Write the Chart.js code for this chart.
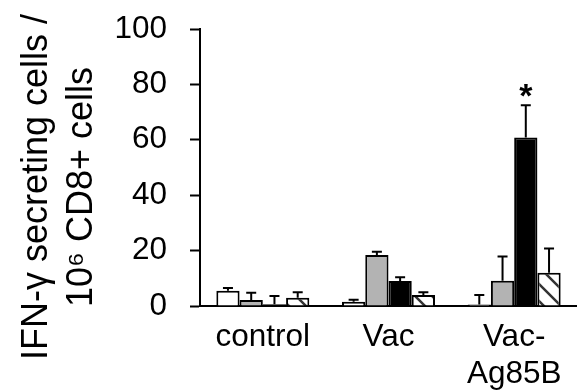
<!DOCTYPE html>
<html>
<head>
<meta charset="utf-8">
<script src="https://cdn.jsdelivr.net/npm/chart.js@4"></script>
<style>
  html, body { margin: 0; padding: 0; background: #fff; }
  #wrap { width: 577px; height: 391px; }
</style>
</head>
<body>
<div id="wrap"><canvas id="ifnChart"></canvas></div>
<script>
// Data
const groups = ['control', 'Vac', ['Vac-', 'Ag85B']];
const seriesA = [5.5, 1.5, 0.5];   // white
const seriesB = [2.2, 18.4, 9.1];  // grey
const seriesC = [0.6, 9.0, 60.8];  // black
const seriesD = [3.0, 4.0, 12.0];  // hatched
const errA = [1.0, 0.8, 3.5];
const errB = [2.6, 1.2, 8.8];
const errC = [3.0, 1.4, 11.7];
const errD = [2.0, 1.0, 8.8];
const yTicks = [0, 20, 40, 60, 80, 100];
const yTitle = ['IFN-\u03b3 secreting cells /', '10\u2076 CD8+ cells'];

const fontFamily = '"Liberation Sans", Arial, sans-serif';

// white background with dark diagonal stripes
function makeHatch() {
    const n = 17;
    const c = document.createElement('canvas');
    c.width = n; c.height = n;
    const g = c.getContext('2d');
    g.fillStyle = '#fff';
    g.fillRect(0, 0, n, n);
    g.strokeStyle = '#333';
    g.lineWidth = 2.5;
    g.beginPath();
    g.moveTo(-4, -4); g.lineTo(n + 4, n + 4);
    g.moveTo(-4, n - 4); g.lineTo(4, n + 4);
    g.moveTo(n - 4, -4); g.lineTo(n + 4, 4);
    g.stroke();
    return g.createPattern(c, 'repeat');
}

const errorBars = {
    id: 'errorBars',
    afterDatasetsDraw(chart) {
        const ctx = chart.ctx;
        const y = chart.scales.y;
        ctx.save();
        ctx.strokeStyle = '#000';
        ctx.lineWidth = 2;
        chart.data.datasets.forEach((ds, i) => {
            chart.getDatasetMeta(i).data.forEach((bar, j) => {
                const top = y.getPixelForValue(ds.data[j] + ds.err[j]);
                ctx.beginPath();
                ctx.moveTo(bar.x, bar.y);
                ctx.lineTo(bar.x, top);
                ctx.moveTo(bar.x - 5, top);
                ctx.lineTo(bar.x + 5, top);
                ctx.stroke();
            });
        });
        // significance mark on black bar, Vac-Ag85B
        const bar = chart.getDatasetMeta(2).data[2];
        const ds = chart.data.datasets[2];
        ctx.fillStyle = '#000';
        ctx.font = 'bold 34px ' + fontFamily;
        ctx.textAlign = 'center';
        ctx.textBaseline = 'alphabetic';
        ctx.fillText('*', bar.x, y.getPixelForValue(ds.data[2] + ds.err[2]) + 2);

        // y axis title, two rotated lines
        ctx.font = '36px ' + fontFamily;
        ctx.translate(0, 187);
        ctx.rotate(-Math.PI / 2);
        ctx.fillText(yTitle[0], 0, 47);
        ctx.fillText(yTitle[1], 0, 92);
        ctx.restore();
    }
};

const font = { family: fontFamily, size: 31.5 };

const chartConfig = {
    type: 'bar',
    data: {
        labels: groups,
        datasets: [
            { data: seriesA, err: errA, backgroundColor: '#ffffff' },
            { data: seriesB, err: errB, backgroundColor: '#b3b3b3' },
            { data: seriesC, err: errC, backgroundColor: '#000000' },
            { data: seriesD, err: errD, backgroundColor: makeHatch() }
        ].map(d => Object.assign(d, {
            borderColor: '#000', borderWidth: 2,
            categoryPercentage: 0.74, barPercentage: 1.0
        }))
    },
    options: {
        responsive: true,
        maintainAspectRatio: false,
        animation: false,
        layout: { padding: { top: 29, right: 0, bottom: 0, left: 0 } },
        plugins: { legend: { display: false }, tooltip: { enabled: false } },
        scales: {
            x: {
                grid: { display: false, drawTicks: false },
                border: { color: '#000', width: 2 },
                ticks: { color: '#000', font: font, padding: 12, maxRotation: 0 },
                afterFit(s) { s.height = 85; s.paddingLeft = 0; s.paddingRight = 0; }
            },
            y: {
                min: 0, max: 100,
                afterBuildTicks(s) { s.ticks = yTicks.map(v => ({ value: v })); },
                grid: { drawOnChartArea: false, tickLength: 10, tickColor: '#000', tickWidth: 2 },
                border: { color: '#000', width: 2 },
                ticks: { color: '#000', font: font, padding: 23 },
                afterFit(s) { s.width = 200; s.paddingTop = 0; s.paddingBottom = 0; }
            }
        }
    },
    plugins: [errorBars]
};

const ctx = document.getElementById('ifnChart');
const ifnChart = new Chart(ctx, chartConfig);
</script>
</body>
</html>
